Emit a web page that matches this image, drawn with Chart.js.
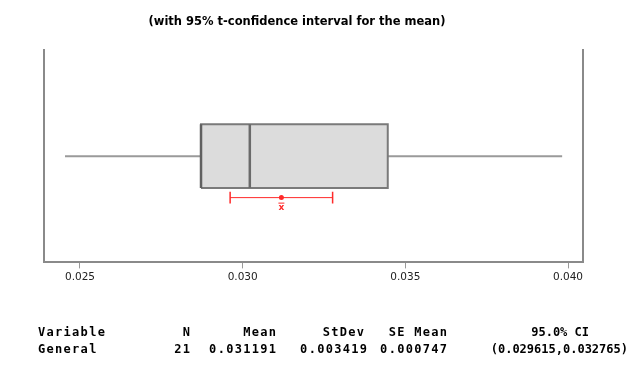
<!DOCTYPE html>
<html>
<head>
<meta charset="utf-8">
<script src="https://cdn.jsdelivr.net/npm/chart.js@4"></script>
<style>
  html, body { margin: 0; padding: 0; background: #fff; }
  #wrap { position: relative; width: 636px; height: 369px; overflow: hidden; }
  canvas { position: absolute; left: 0; top: 0; }
  .cell { position: absolute; font-family: "DejaVu Sans Mono", monospace; font-weight: bold; font-size: 12px; letter-spacing: 1.3px; color: #000; white-space: pre; line-height: 12px; }
  .tight { letter-spacing: 0; }
  #title { position: absolute; left: 0; width: 594px; top: 14px; text-align: center; font-family: "DejaVu Sans", sans-serif; font-weight: bold; font-size: 11.5px; line-height: 14px; color: #000; white-space: pre; }
</style>
</head>
<body>
<div id="wrap">
  <canvas id="c" width="636" height="369"></canvas>
  <div id="title"></div>
</div>
<script>
// ---- data ----
const titleText = "(with 95% t-confidence interval for the mean)";
const tickValues = [0.025, 0.030, 0.035, 0.040];
const tickLabels = ["0.025", "0.030", "0.035", "0.040"];
const axisRange = [0.023894, 0.040461];
const whiskerLow = 0.02454;
const q1 = 0.02872;
const median = 0.03022;
const q3 = 0.03446;
const whiskerHigh = 0.03982;
const mean = 0.031191;
const meanCI = [0.029615, 0.032765];
const tableHeader = ["Variable", "N", "Mean", "StDev", "SE Mean", "95.0% CI"];
const tableRow = ["General", "21", "0.031191", "0.003419", "0.000747", "(0.029615,0.032765)"];

document.getElementById('title').textContent = titleText;

// ---- layout constants (vertical positions in a 0..10 band) ----
const yMid = 5, yBoxLo = 3.5, yBoxHi = 6.5, yCI = 3.05, capH = 0.28;

const boxPoly = [
  {x: q1, y: yBoxLo}, {x: q3, y: yBoxLo}, {x: q3, y: yBoxHi}, {x: q1, y: yBoxHi}, {x: q1, y: yBoxLo}
];

const grayLine = '#9a9a9a';
const red = '#ff2a2a';

const xbarPlugin = {
  id: 'xbar',
  afterDatasetsDraw(chart) {
    const {ctx, scales} = chart;
    const px = scales.x.getPixelForValue(mean);
    const py = scales.y.getPixelForValue(yCI);
    ctx.save();
    ctx.fillStyle = red;
    ctx.strokeStyle = red;
    ctx.font = 'bold 9px "DejaVu Sans"';
    ctx.textAlign = 'center';
    ctx.textBaseline = 'top';
    ctx.fillText('x', px, py + 6);
    ctx.lineWidth = 1;
    ctx.beginPath();
    ctx.moveTo(px - 3, py + 5.5);
    ctx.lineTo(px + 3, py + 5.5);
    ctx.stroke();
    ctx.restore();
  }
};

new Chart(document.getElementById('c'), {
  type: 'scatter',
  data: {
    datasets: [
      { order: 6, data: [{x: whiskerLow, y: yMid}, {x: q1, y: yMid}], showLine: true, borderColor: grayLine, borderWidth: 2, pointRadius: 0 },
      { order: 6, data: [{x: q3, y: yMid}, {x: whiskerHigh, y: yMid}], showLine: true, borderColor: grayLine, borderWidth: 2, pointRadius: 0 },
      { order: 5, data: boxPoly, showLine: true, fill: 'shape', backgroundColor: '#dcdcdc', borderColor: '#7a7a7a', borderWidth: 2, pointRadius: 0, tension: 0 },
      { order: 4, data: [{x: q1, y: yBoxLo}, {x: q1, y: yBoxHi}], showLine: true, borderColor: '#606060', borderWidth: 2.5, pointRadius: 0 },
      { order: 3, data: [{x: median, y: yBoxLo}, {x: median, y: yBoxHi}], showLine: true, borderColor: '#6a6a6a', borderWidth: 2.5, pointRadius: 0 },
      { order: 2, data: [{x: meanCI[0], y: yCI}, {x: meanCI[1], y: yCI}], showLine: true, borderColor: red, borderWidth: 1, pointRadius: 0 },
      { order: 2, data: [{x: meanCI[0], y: yCI - capH}, {x: meanCI[0], y: yCI + capH}], showLine: true, borderColor: red, borderWidth: 1.5, pointRadius: 0 },
      { order: 2, data: [{x: meanCI[1], y: yCI - capH}, {x: meanCI[1], y: yCI + capH}], showLine: true, borderColor: red, borderWidth: 1.5, pointRadius: 0 },
      { order: 1, data: [{x: mean, y: yCI}], showLine: false, pointRadius: 2.5, pointBackgroundColor: red, pointBorderColor: red, pointBorderWidth: 0 }
    ]
  },
  options: {
    responsive: false,
    animation: false,
    events: [],
    layout: { padding: { left: 44, right: 53, top: 50, bottom: 82 } },
    plugins: {
      legend: { display: false },
      tooltip: { enabled: false },
      title: { display: false }
    },
    scales: {
      x: {
        type: 'linear',
        min: axisRange[0],
        max: axisRange[1],
        afterBuildTicks: (s) => { s.ticks = tickValues.map(v => ({value: v})); },
        ticks: {
          callback: (v) => tickLabels[tickValues.indexOf(v)] ?? '',
          color: '#222',
          font: { family: 'DejaVu Sans', size: 10.5 },
          padding: 3,
          maxRotation: 0,
          autoSkip: false
        },
        grid: { drawOnChartArea: false, drawTicks: true, tickLength: 6, color: '#999', tickWidth: 1 },
        border: { display: true, color: '#8a8a8a', width: 2 }
      },
      y: {
        type: 'linear',
        position: 'left',
        min: 0, max: 10,
        ticks: { display: false },
        grid: { display: false, drawTicks: false },
        border: { display: true, color: '#8a8a8a', width: 2 }
      },
      y2: {
        type: 'linear',
        position: 'right',
        min: 0, max: 10,
        ticks: { display: false },
        grid: { display: false, drawTicks: false },
        border: { display: true, color: '#8a8a8a', width: 2 }
      }
    }
  },
  plugins: [xbarPlugin]
});

// ---- summary table (real HTML text) ----
const wrap = document.getElementById('wrap');
const headerRight = [null, 190, 276, 364, 447, 589];
const rowRight = [null, 190, 276, 367, 447, 628];
function addCell(text, y, left, right, tight) {
  const d = document.createElement('div');
  d.className = 'cell' + (tight ? ' tight' : '');
  d.textContent = text;
  d.style.top = y + 'px';
  if (left !== null) d.style.left = left + 'px';
  else d.style.right = (636 - right - (tight ? 0 : 1.3)) + 'px';
  wrap.appendChild(d);
}
tableHeader.forEach((t, i) => addCell(t, 326, i === 0 ? 38 : null, headerRight[i], i === 5));
tableRow.forEach((t, i) => addCell(t, 343, i === 0 ? 38 : null, rowRight[i], i === 5));
</script>
</body>
</html>
